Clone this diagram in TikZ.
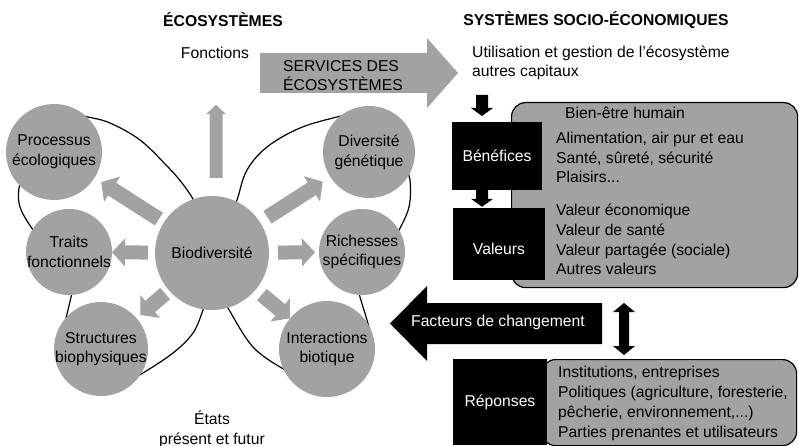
\documentclass[tikz,border=0pt]{standalone}
\usepackage{fontspec}
\setmainfont{Liberation Sans}
\usetikzlibrary{calc}
\definecolor{cgrey}{RGB}{162,162,162}
\newcommand\blockarrow[6]{%
  \coordinate (bahb) at ($(#3)!#6!(#2)$);
  \fill[#1] ($(#2)!#4!90:(#3)$) -- ($(bahb)!#4!90:(#3)$) -- ($(bahb)!#5!90:(#3)$) -- (#3)
    -- ($(bahb)!#5!-90:(#3)$) -- ($(bahb)!#4!-90:(#3)$) -- ($(#2)!#4!-90:(#3)$) -- cycle;}
\begin{document}
\begin{tikzpicture}[x=1pt,y=-1pt,
  every node/.style={inner sep=0pt, font=\fontsize{15.7}{19.7}\selectfont},
  gcirc/.style={circle, fill=cgrey, inner sep=0pt},
  ctext/.style={align=center},
  blackbox/.style={fill=black, text=white, inner sep=0pt},
  greybox/.style={draw=black, fill=cgrey, rounded corners=14pt, line width=1.2pt, anchor=north west},
  wingline/.style={line width=1.2pt},
  ltext/.style={align=left, anchor=west},
  headtext/.style={font=\bfseries\fontsize{15.7}{19.7}\selectfont}]
\useasboundingbox (0,0) rectangle (799,446);
\fill[white] (0,0) rectangle (799,446);

% ---------- headings ----------
\node[headtext] (hleft) at (223,20) {ÉCOSYSTÈMES};
\node[headtext] (hright) at (596,20) {SYSTÈMES SOCIO-ÉCONOMIQUES};
\node (fonc) at (215,53) {Fonctions};
\node[ltext] (util) at (472,63) {Utilisation et gestion de l’écosystème\\autres capitaux};

% ---------- butterfly wings ----------
\draw[wingline] plot[smooth, tension=0.6] coordinates {(70,113) (88,117) (110,123) (140,140) (167,166) (182,183) (193,199) (200,214)};
\draw[wingline] plot[smooth, tension=0.6] coordinates {(26,174) (19,188) (20,207) (31,227) (42,240)};
\draw[wingline] plot[smooth, tension=0.6] coordinates {(74,285) (72,293) (68,310) (66,318)};
\draw[wingline] plot[smooth, tension=0.6] coordinates {(130,380) (143,373) (173,353) (193,333) (203,310) (206,300)};
\draw[wingline] plot[smooth, tension=0.6] coordinates {(350,115) (337,117) (300,128) (267,147) (247,170) (238,197) (234,210)};
\draw[wingline] plot[smooth, tension=0.6] coordinates {(405,168) (410,180) (409,207) (398,232) (392,240)};
\draw[wingline] plot[smooth, tension=0.6] coordinates {(358,288) (360,297) (367,320) (369,328)};
\draw[wingline] plot[smooth, tension=0.6] coordinates {(224,300) (228,308) (253,347) (285,370) (295,373)};

% ---------- circles ----------
\node[gcirc, minimum size=114] (bio) at (212,253) {};
\node[gcirc, minimum size=96] (proc) at (54,152) {};
\node[gcirc, minimum size=86] (trait) at (69,252) {};
\node[gcirc, minimum size=94] (struc) at (101,349) {};
\node[gcirc, minimum size=92] (div) at (369,152) {};
\node[gcirc, minimum size=86] (rich) at (362,252) {};
\node[gcirc, minimum size=96] (inter) at (327,349) {};

\node[ctext] (biot) at (bio) {Biodiversité};
\node[ctext] (proct) at (proc) {Processus\\écologiques};
\node[ctext] (traitt) at (trait) {Traits\\fonctionnels};
\node[ctext] (struct) at (struc) {Structures\\biophysiques};
\node[ctext] (divt) at (div) {Diversité\\génétique};
\node[ctext] (richt) at (rich) {Richesses\\spécifiques};
\node[ctext] (intert) at (inter) {Interactions\\biotique};

% ---------- grey arrows from biodiversity ----------
\coordinate (s1) at ($(bio)!63pt!(proc)$);   \coordinate (e1) at ($(proc)!56pt!(bio)$);
\coordinate (s2) at ($(bio)!64pt!(trait)$);  \coordinate (e2) at ($(trait)!43pt!(bio)$);
\coordinate (s3) at ($(bio)!62pt!(struc)$);  \coordinate (e3) at ($(struc)!52pt!(bio)$);
\coordinate (s4) at ($(bio)!66pt!(div)$);    \coordinate (e4) at ($(div)!55pt!(bio)$);
\coordinate (s5) at ($(bio)!66pt!(rich)$);   \coordinate (e5) at ($(rich)!47pt!(bio)$);
\coordinate (s6) at ($(bio)!65pt!(inter)$);  \coordinate (e6) at ($(inter)!48pt!(bio)$);
\coordinate (s0) at ($(bio.north)+(4,-18)$); \coordinate (e0) at ($(bio.north)+(4,-91)$);
\blockarrow{cgrey}{s1}{e1}{7.5pt}{15pt}{13pt}
\blockarrow{cgrey}{s2}{e2}{7pt}{14pt}{13pt}
\blockarrow{cgrey}{s3}{e3}{7.5pt}{15pt}{13pt}
\blockarrow{cgrey}{s4}{e4}{7.5pt}{15pt}{13pt}
\blockarrow{cgrey}{s5}{e5}{7pt}{14pt}{13pt}
\blockarrow{cgrey}{s6}{e6}{7.5pt}{15pt}{13pt}
\blockarrow{cgrey}{s0}{e0}{6.5pt}{9.5pt}{9pt}

% ---------- services arrow ----------
\coordinate (svs) at (260,73); \coordinate (sve) at (458,73);
\blockarrow{cgrey}{svs}{sve}{20pt}{35pt}{31pt}
\node[align=left, anchor=west, font=\fontsize{15.7}{19}\selectfont] (serv) at (283,76) {SERVICES DES\\ÉCOSYSTÈMES};

% ---------- right side boxes ----------
\node[greybox, minimum width=286, minimum height=185] (hw) at (511,102) {};
\node[greybox, minimum width=255, minimum height=86] (resp) at (541,359) {};
\node[blackbox, minimum width=90, minimum height=68] (ben) at (497,156) {Bénéfices};
\node[blackbox, minimum width=92, minimum height=72] (val) at (499,244) {};
\node[text=white] (valt) at (499,249) {Valeurs};
\node[blackbox, minimum width=94, minimum height=86] (rep) at (500,402) {Réponses};

\node[ltext] (bien) at (565,113) {Bien-être humain};
\node[ltext] (list1) at (556,157.5) {Alimentation, air pur et eau\\Santé, sûreté, sécurité\\Plaisirs...};
\node[ltext] (list2) at (556,239.5) {Valeur économique\\Valeur de santé\\Valeur partagée (sociale)\\Autres valeurs};
\node[ltext] (list3) at (558,403.4) {Institutions, entreprises\\Politiques (agriculture, foresterie,\\pêcherie, environnement,...)\\Parties prenantes et utilisateurs};

% ---------- black arrows ----------
\coordinate (d1s) at (482,95); \coordinate (d1e) at (482,116);
\blockarrow{black}{d1s}{d1e}{6pt}{11pt}{8pt}
\coordinate (d2s) at ($(ben.south)+(-15,0)$); \coordinate (d2e) at ($(val.north)+(-17,-1)$);
\blockarrow{black}{d2s}{d2e}{6pt}{11pt}{8pt}
\coordinate (dbm) at (624,329); \coordinate (dbt) at (624,303); \coordinate (dbb) at (624,355);
\blockarrow{black}{dbm}{dbt}{5pt}{11pt}{9pt}
\blockarrow{black}{dbm}{dbb}{5pt}{11pt}{9pt}

\coordinate (fs) at (602,323.5); \coordinate (fe) at (390,323.5);
\blockarrow{black}{fs}{fe}{20.5pt}{37.5pt}{37pt}
\node[text=white] (fact) at (498,322) {Facteurs de changement};

% ---------- bottom text ----------
\node[align=center] (etat) at (212,429) {États\\présent et futur};
\end{tikzpicture}
\end{document}
